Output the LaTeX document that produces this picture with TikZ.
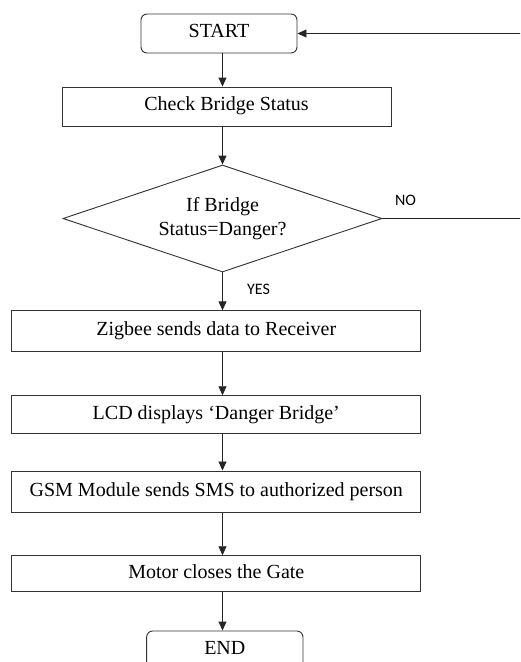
\documentclass[tikz,border=0pt]{standalone}
\usepackage{fontspec}
\setmainfont{Liberation Serif}
\newfontfamily\lblfont{Carlito}
\usetikzlibrary{shapes.geometric,arrows.meta}
\begin{document}
\begin{tikzpicture}[x=1pt,y=-1pt,
  every node/.style={font=\fontsize{20}{24}\selectfont, inner sep=0pt},
  boxs/.style={draw=black!80, line width=0.9pt, rectangle, text depth=5pt},
  term/.style={draw=black!80, line width=0.9pt, rectangle, rounded corners=6pt, text depth=5pt},
  arr/.style={draw=black!85, line width=0.9pt, -{Triangle[length=9pt,width=8pt]}},
  lbl/.style={font=\lblfont\fontsize{16}{19}\selectfont}]
\useasboundingbox (0,0) rectangle (520,662);
\clip (0,0) rectangle (520,662);
\node[term, minimum width=156pt, minimum height=39pt] (start) at (219,33.5) {START};
\node[boxs, minimum width=329pt, minimum height=39pt] (check) at (226.5,106.5) {Check Bridge Status};
\node[draw=black!80, line width=0.9pt, diamond, aspect=3, minimum width=319pt, minimum height=107pt, align=center] (dia) at (222.5,218.5) {If Bridge\\Status=Danger?};
\node[boxs, minimum width=409pt, minimum height=41pt] (zig) at (216.3,331.3) {Zigbee sends data to Receiver};
\node[boxs, minimum width=409pt, minimum height=38pt] (lcd) at (216.3,414.7) {LCD displays `Danger Bridge'};
\node[boxs, minimum width=409pt, minimum height=41.7pt] (gsm) at (216.3,491.8) {GSM Module sends SMS to authorized person};
\node[boxs, minimum width=409pt, minimum height=36pt] (motor) at (216.3,573.7) {Motor closes the Gate};
\node[term, minimum width=156.3pt, minimum height=38pt] (end) at (224.8,650) {END};
\node[lbl] (no) at (405.5,200) {NO};
\node[lbl] (yes) at (258.5,289) {YES};
\coordinate (r1) at (530,220);
\draw[arr] (start.south -| dia) -- (check.north -| dia);
\draw[arr] (check.south -| dia) -- (dia.north);
\draw[arr] (dia.south) -- (zig.north -| dia);
\draw[arr] (zig.south -| dia) -- (lcd.north -| dia);
\draw[arr] (lcd.south -| dia) -- (gsm.north -| dia);
\draw[arr] (gsm.south -| dia) -- (motor.north -| dia);
\draw[arr] (motor.south -| dia) -- (end.north -| dia);
\draw[arr] (dia.east) -- (dia.east -| r1) |- (start.east);
\end{tikzpicture}
\end{document}
